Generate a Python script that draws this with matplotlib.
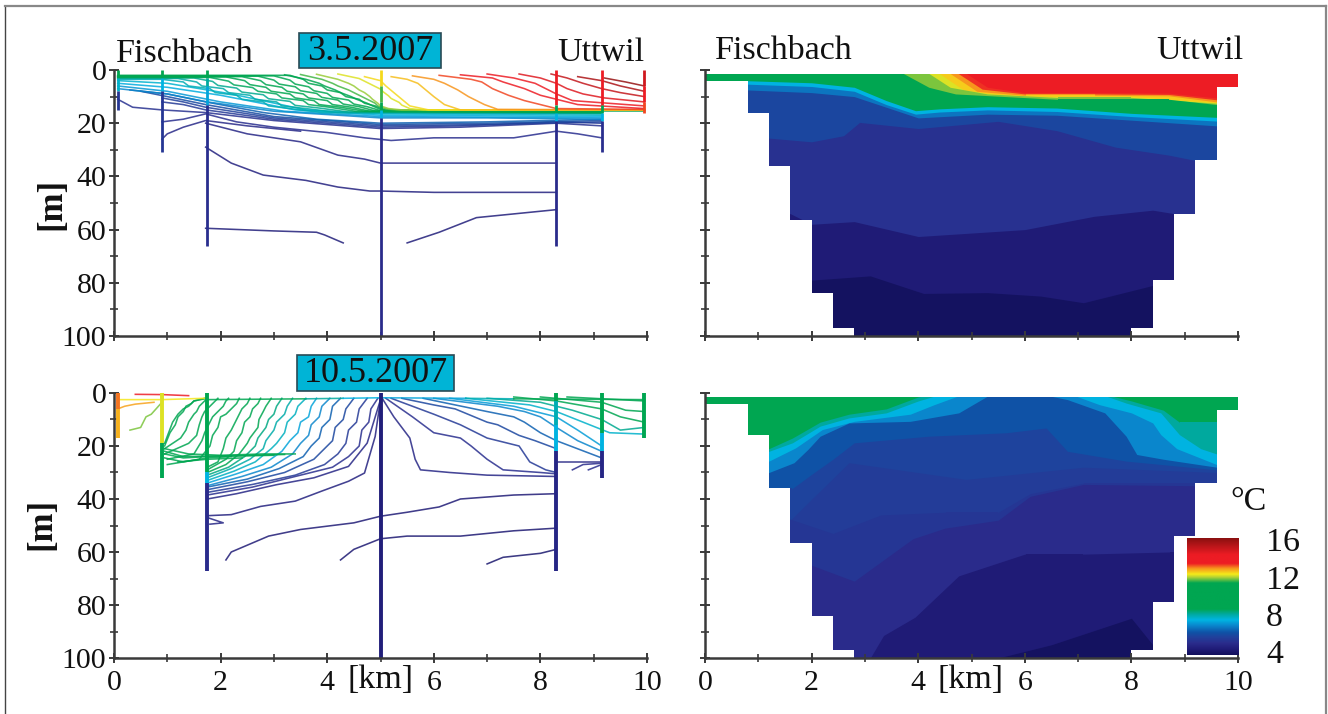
import matplotlib
matplotlib.use("Agg")
import matplotlib.pyplot as plt
from matplotlib.colors import LinearSegmentedColormap
from matplotlib.patches import Polygon, Rectangle
from matplotlib.ticker import MultipleLocator
import numpy as np

W, H = 1328, 714
plt.rcParams['font.family'] = ['Liberation Serif', 'DejaVu Serif']

# ---- colour scale -------------------------------------------------------
scale_T = [4, 4.6, 5.2, 5.8, 6.3, 7, 7.6, 8.2, 8.7, 11.4, 12.0, 12.3, 12.9, 13.4, 14.3, 16]
scale_c = ['#12105c', '#201c78', '#2a2c8c', '#21409b', '#0f52a6', '#0a85cc', '#00b5e2', '#00a99d',
           '#00a651', '#00a651', '#b5d334', '#f5eb1a', '#f7941d', '#ed1c24', '#ed1c24', '#8b1010']
cmap = LinearSegmentedColormap.from_list('lake', [((t - 4) / 12, c) for t, c in zip(scale_T, scale_c)])
def tc(t):
    return cmap((t - 4) / 12)

# ---- basin outline ------------------------------------------------------
bathy_x = [0, 0.8, 1.2, 1.6, 2.0, 2.4, 2.8, 8.0, 8.4, 8.8, 9.2, 9.6, 10]
bathy_z = [4, 16, 36, 56.5, 84, 97, 100, 97, 79, 54, 34, 6.5]
surface_z = 1.4

# ---- stations -----------------------------------------------------------
st_x = [0.07, 0.9, 1.75, 5.0, 8.3, 9.15, 9.95]
top_st_z = [[0, 3, 8, 15], [0, 3, 8, 31], [0, 3, 6, 13, 66], [0, 6, 12, 15, 18, 100],
            [0, 13, 16, 19, 66], [0, 13, 16, 19, 31], [0, 6, 12, 16]]
top_st_T = [[9.5, 7.8, 5.5], [9.5, 7.6, 5.5], [9.5, 8.2, 7.4, 5.3], [12.4, 11.6, 10, 7.6, 5.2],
            [13.6, 9.5, 7.6, 5.2], [13.6, 9.5, 7.6, 5.3], [14.8, 14.0, 13.2]]
bot_st_z = [[0, 6, 17], [0, 19, 32], [0, 30, 34, 67], [0, 100], [0, 3, 12, 22, 67], [0, 15, 22, 32], [0, 17]]
bot_st_T = [[13.0, 12.7], [12.2, 9.5], [9.5, 7.6, 5.2], [4.7], [9.5, 8.0, 7.6, 5.0], [9.5, 7.6, 5.0], [9.5]]

# ---- isotherms, left top ------------------------------------------------
top_T = [4.7, 4.7, 4.8, 5.0, 5.1, 5.3, 5.4, 5.6, 5.8, 6.1, 6.5, 7.0, 7.25, 7.5, 7.75,
         8.0, 8.1, 8.3, 8.6, 9.0, 9.5, 10, 10.5, 11, 11.3, 11.6, 11.9, 12.2, 12.4,
         12.6, 12.9, 13.2, 13.6, 14.1, 14.5, 15, 15.4, 15.8]
top_x = [[1.72, 3, 3.8, 3.95, 4.3], [5.5, 6.1, 6.8, 8.3],
         [1.72, 2.2, 2.8, 3.6, 4.2, 4.8, 5, 6, 8.3],
         [1.72, 2.5, 3.5, 4.2, 4.7, 5, 8.3],
         [0.9, 1.0, 1.3, 1.72, 2.5, 3.5],
         [0.9, 1.3, 1.72, 2.3, 3, 4, 4.7, 5.2, 6, 7.5, 8.3, 8.7, 9.15],
         [0.07, 0.35, 0.9, 1.72, 3, 5, 6.5, 8.3, 9.15],
         [0.9, 1.3, 1.72, 3, 5, 6.5, 8.3, 9.15],
         [0.9, 1.3, 1.72, 3, 5, 7, 9.15],
         [0.5, 1, 1.72, 3, 5, 7, 9.15],
         [0.3, 1, 1.72, 2.8, 3.8, 5, 7, 9.15],
         [0.07, 1, 1.75, 3, 5, 7, 9.15],
         [0.07, 1, 2, 3.2, 5, 9.15],
         [0.07, 1, 2, 3.4, 5, 9.15],
         [0.07, 1, 2.2, 3.6, 5, 9.15],
         [0.07, 0.9, 1.3, 1.4, 1.8, 1.9, 2.3, 2.4, 2.8, 2.9, 3.3, 3.9, 9.15],
         [0.07, 1.2, 1.55, 1.65, 2.05, 2.15, 2.55, 2.65, 3.05, 3.15, 3.6, 4.2, 9.15],
         [0.07, 1.5, 1.85, 1.95, 2.3, 2.4, 2.8, 2.9, 3.3, 3.4, 3.85, 4.4, 9.15],
         [0.07, 1.8, 2.15, 2.25, 2.6, 2.7, 3.05, 3.15, 3.55, 3.65, 4.05, 4.55, 9.15],
         [0.07, 2.1, 2.45, 2.55, 2.85, 2.95, 3.3, 3.4, 3.75, 3.85, 4.25, 4.7, 9.15],
         [0.07, 2.4, 2.75, 2.85, 3.15, 3.25, 3.55, 3.65, 4.0, 4.1, 4.45, 4.8, 9.15],
         [0.07, 2.7, 3.0, 3.1, 3.4, 3.5, 3.8, 3.9, 4.2, 4.3, 4.6, 4.9, 9.15],
         [0.07, 3.0, 3.3, 3.4, 3.65, 3.75, 4.0, 4.1, 4.4, 4.5, 4.75, 5.0, 9.15],
         [0.07, 3.3, 3.55, 3.65, 3.9, 4.0, 4.25, 4.35, 4.6, 4.7, 4.9, 5.1, 9.95],
         [3.2, 3.6, 3.85, 3.95, 4.15, 4.25, 4.45, 4.55, 4.75, 4.85, 5.0, 5.2, 9.95],
         [3.5, 3.9, 4.1, 4.2, 4.4, 4.5, 4.65, 4.75, 4.9, 4.95, 5.1, 5.3, 9.95],
         [3.8, 4.2, 4.4, 4.5, 4.6, 4.7, 4.8, 4.85, 4.95, 5.0, 5.15, 5.4, 9.95],
         [4.2, 4.6, 4.75, 4.85, 5.0, 5.05, 5.15, 5.2, 5.35, 5.4, 5.55, 5.8, 9.95],
         [4.7, 5.0, 5.1, 5.25, 5.4, 5.55, 5.9, 9.95],
         [5.2, 5.5, 5.7, 5.85, 6.0, 6.2, 6.5, 9.95],
         [5.6, 6.0, 6.2, 6.45, 6.65, 6.95, 7.2, 9.95],
         [6.1, 6.7, 6.9, 7.1, 7.4, 7.7, 8.3, 9.95],
         [6.5, 7.1, 7.3, 7.7, 8.0, 8.3, 8.7, 9.95],
         [7.0, 7.5, 7.9, 8.1, 8.3, 8.6, 9.95],
         [7.6, 8.0, 8.3, 8.5, 8.8, 9.2, 9.95],
         [8.2, 8.5, 8.8, 9.15, 9.5, 9.95],
         [8.7, 9.15, 9.5, 9.95],
         [9.2, 9.6, 9.95]]
top_z = [[59.5, 60.5, 61, 62, 65], [65, 61, 55.5, 52.5],
         [29, 35, 39.5, 41.5, 44, 45.5, 45.5, 46, 46],
         [20, 24, 27, 32, 33.5, 35, 35],
         [26, 24, 21.5, 19, 21, 23],
         [19.5, 18.5, 16.5, 19.5, 21.5, 23.5, 25.5, 26.5, 25.5, 25.5, 23, 24, 25.5],
         [11, 14, 15, 16, 19, 22, 21.5, 20, 21],
         [12, 13, 15, 18.5, 21.5, 21, 19.5, 20],
         [10.5, 12, 14, 18, 21, 20.5, 19.5],
         [8, 10, 13, 17.5, 20.5, 20, 19],
         [7.5, 9, 12, 16, 18.5, 20, 19.5, 18.5],
         [7, 9, 12, 15.5, 18, 18, 18.5],
         [6, 8, 12, 15.5, 17.5, 18],
         [5, 6.5, 9.5, 15, 17, 17.5],
         [4, 5, 9, 15, 16.5, 17],
         [3.5, 3.5, 4.5, 6, 7, 8.5, 9.5, 11, 12, 13.5, 14.5, 16, 16.5],
         [3.2, 3.2, 4.5, 6, 7, 8.5, 9.5, 11, 12, 13.5, 14.5, 16, 16.3],
         [3, 3, 4.3, 5.8, 6.8, 8.3, 9.3, 10.8, 11.8, 13.3, 14.3, 15.8, 16.2],
         [2.8, 2.8, 4.2, 5.6, 6.6, 8, 9, 10.5, 11.5, 13, 14, 15.6, 16],
         [2.6, 2.6, 4, 5.5, 6.5, 8, 9, 10.5, 11.5, 13, 14, 15.5, 16],
         [2.5, 2.5, 4, 5.5, 6.5, 8, 9, 10.5, 11.5, 13, 14, 15.5, 15.8],
         [2.3, 2.3, 3.8, 5.3, 6.3, 7.8, 8.8, 10.3, 11.3, 12.8, 13.8, 15.4, 15.7],
         [2.2, 2.2, 3.8, 5.3, 6.3, 7.8, 8.8, 10.3, 11.3, 12.8, 13.8, 15.3, 15.6],
         [2.0, 2.0, 3.5, 5, 6, 7.5, 8.5, 10, 11, 12.5, 13.5, 15.2, 15.4],
         [1.8, 3.5, 5, 6, 7.5, 8.5, 10, 11, 12.5, 13.5, 14.8, 15.2, 15.2],
         [1.7, 3.5, 5, 6, 7.5, 8.5, 10, 11, 12.5, 13.5, 14.6, 15.1, 15.1],
         [1.6, 3.5, 5, 6, 7.5, 8.5, 10, 11, 12.5, 13.5, 14.5, 15, 15],
         [1.5, 3.2, 4.7, 5.7, 7.2, 8.2, 9.7, 10.7, 12.2, 13.2, 14.5, 15, 15],
         [2.5, 4, 6, 8.5, 11, 13.5, 15, 15],
         [2.5, 3.5, 5, 7.5, 10, 13, 15, 15],
         [2.2, 3.5, 5, 7.5, 10, 13, 14.8, 15],
         [2, 3.5, 4.5, 7, 9.5, 11.5, 14.5, 14.8],
         [1.8, 3, 4.5, 7, 9.5, 11, 13, 14.5],
         [1.5, 3, 5, 7, 9, 11.5, 13.5],
         [1.5, 3, 5, 7, 9, 10.5, 12],
         [1.5, 3, 5, 7, 8.5, 10],
         [2.5, 4, 6, 8],
         [3, 4.5, 6]]

# ---- isotherms, left bottom ---------------------------------------------
bot_T = [4.6, 4.5, 4.4, 5.0, 4.8, 5.0,
         5.3, 5.6, 6.0, 6.5, 7.0, 7.4, 7.9, 8.1, 8.4, 8.7, 8.9, 9.2, 9.5, 9.8, 10.2, 10.6, 11.0, 11.3,
         9.5, 9.6, 9.7, 9.8, 9.4,
         11.8, 12.3, 12.8, 13.4,
         5.0, 5.3, 5.6, 6.0, 6.5, 7.0, 7.3, 7.8, 8.3, 8.8, 9.5, 10,
         5.0, 5.2, 5.3,
         10.0, 8.2, 7.6, 7.4, 8.0, 10.0]
bot_x = [[2.1, 2.2, 2.9, 3.5, 4.5, 5, 5.5, 6.1, 6.5, 7.5, 8.3],
         [4.25, 4.5, 5, 5.5, 6.5, 7.5, 8.3],
         [7, 7.3, 8, 8.3],
         [1.75, 2.05, 1.8],
         [1.75, 2.2, 2.75, 3.4, 3.9, 4.4, 4.7, 4.9, 5],
         [1.75, 2.3, 3.05, 3.75, 4.4, 4.75, 5],
         [1.75, 2.6, 3.4, 4.1, 4.4, 4.6, 4.65, 4.78, 4.82, 4.95],
         [1.75, 2.6, 3.4, 3.95, 4.2, 4.35, 4.4, 4.55, 4.6, 4.75],
         [1.75, 2.5, 3.2, 3.75, 3.95, 4.1, 4.15, 4.3, 4.35, 4.5],
         [1.75, 2.5, 3.1, 3.55, 3.7, 3.85, 3.9, 4.05, 4.1, 4.25],
         [1.75, 2.4, 2.95, 3.35, 3.5, 3.65, 3.7, 3.85, 3.9, 4.05],
         [1.75, 2.3, 2.8, 3.15, 3.3, 3.45, 3.5, 3.65, 3.7, 3.8],
         [1.75, 2.25, 2.65, 2.95, 3.05, 3.2, 3.25, 3.4, 3.45, 3.6],
         [1.75, 2.2, 2.55, 2.8, 2.85, 3.0, 3.05, 3.2, 3.25, 3.35],
         [1.75, 2.15, 2.45, 2.65, 2.7, 2.85, 2.9, 3.0, 3.05, 3.15],
         [1.75, 2.1, 2.35, 2.5, 2.55, 2.7, 2.72, 2.8, 2.85, 2.95],
         [1.75, 2.1, 2.25, 2.3, 2.4, 2.45, 2.55, 2.6, 2.7, 2.75],
         [1.75, 1.95, 2.05, 2.1, 2.2, 2.3, 2.35, 2.4, 2.5, 2.55],
         [1.0, 1.6, 1.8, 1.85, 1.95, 2.0, 2.1, 2.2, 2.3, 2.35],
         [1.0, 1.5, 1.65, 1.7, 1.8, 1.85, 1.95, 2.05, 2.1, 2.15],
         [0.95, 1.4, 1.55, 1.6, 1.65, 1.7, 1.75, 1.85, 1.9, 1.95],
         [0.95, 1.25, 1.35, 1.4, 1.5, 1.55, 1.6, 1.65, 1.7, 1.75],
         [0.95, 1.05, 1.15, 1.2, 1.3, 1.35, 1.45, 1.5, 1.6, 1.7],
         [0.95, 1.1, 1.2, 1.3, 1.4, 1.5, 1.75],
         [0.95, 1.4, 2.0, 2.8, 3.4],
         [0.95, 1.3, 1.75, 2.6, 3.2],
         [0.95, 1.3, 1.75, 2.3, 3.0],
         [0.95, 1.3, 1.75, 2.2],
         [1.2, 1.75, 2.4],
         [0.3, 0.5, 0.6, 0.7, 0.9],
         [0.07, 0.9, 1.7],
         [0.07, 0.2, 0.4, 0.75],
         [0.4, 0.9, 1.4],
         [5, 5.25, 5.55, 5.65, 5.75, 6.3, 7, 8.3],
         [5.1, 5.6, 6, 6.5, 6.7, 7, 7.3, 8, 8.3],
         [5.2, 6, 6.5, 7, 7.6, 7.8, 8.1, 8.3],
         [5.4, 6.0, 6.4, 7, 7.2, 7.6, 7.9, 8.3],
         [5.8, 7, 7.5, 7.7, 8, 8.3, 9.15],
         [6, 7.2, 7.7, 8, 8.3, 8.7, 9.15],
         [6.3, 7.5, 8.3, 8.7, 9.15],
         [6.6, 7.8, 8.3, 8.8, 9.3, 9.95],
         [7, 8, 8.6, 9.15, 9.5, 9.95],
         [7.5, 8.3, 9.15, 9.5, 9.95],
         [8, 9.15, 9.6, 9.95],
         [8.5, 9.95],
         [8.3, 8.9, 9.15],
         [8.6, 8.8, 9.15],
         [8.9, 9.15],
         [1.75, 3.6], [3.6, 4.3], [4.3, 5.0], [5.0, 6.6], [6.6, 7.5], [7.5, 9.95]]
bot_z = [[63, 60, 54, 51.5, 49, 46.5, 45, 43, 40, 38.5, 38],
         [63, 59, 55, 54, 54, 52, 51],
         [64.5, 62, 60.5, 59],
         [47, 49, 49.5],
         [46.3, 45.9, 42.8, 40.8, 37, 33.3, 30.2, 16.4, 2.5],
         [40, 38, 34.6, 32, 27.7, 18.9, 2.5],
         [38.5, 35.5, 31.5, 28, 24, 20, 14, 11, 6, 2],
         [37.5, 34.5, 31, 27, 23, 19, 14, 11, 6, 2],
         [36.5, 33.5, 30, 25, 21, 18, 13, 10, 6, 2],
         [35.5, 32.5, 28.5, 24, 20, 17, 13, 10, 5, 2],
         [35, 31.5, 28, 23, 19, 16, 12, 9, 5, 2],
         [34, 30.5, 27, 22, 18, 15, 11, 9, 5, 2],
         [33, 29.5, 26, 21, 19, 15, 11, 8, 5, 2],
         [32, 28.5, 25, 21, 18, 14, 11, 8, 5, 2],
         [31, 28, 24, 20, 17, 13, 10, 8, 5, 2],
         [30, 27, 23, 19, 17, 13, 10, 7, 5, 2],
         [29, 25, 22, 18, 15, 11, 9, 6, 4, 2],
         [28, 26, 21, 17, 14, 10, 8, 6, 4, 2],
         [27, 25, 20, 16, 13, 9, 8, 6, 4, 2],
         [25, 23, 18, 15, 11, 9, 7, 5, 3, 2],
         [23, 19, 16, 12, 9, 7, 6, 4, 3, 2],
         [21, 17, 14, 11, 8, 7, 5, 4, 3, 2],
         [20, 15, 12, 9, 7, 5, 4, 3, 2.5, 2],
         [19, 11, 8, 6, 5, 3, 2],
         [21, 23, 23.5, 23, 23],
         [22, 24, 23.8, 23.5, 23.2],
         [23, 24.5, 24, 23.8, 23.5],
         [24.5, 26, 24.5, 24],
         [26, 25, 24.5],
         [14, 13, 9, 8, 3.5],
         [2.5, 2.5, 2],
         [6, 5, 4.2, 3.5],
         [0.5, 0.6, 1],
         [1, 9, 17, 25, 29, 30, 31, 31.5],
         [2, 9, 15, 17, 20, 25, 29, 30, 30.5],
         [2, 8, 12, 17, 20, 26, 29, 30],
         [2, 4.5, 6, 11, 12, 16, 18, 21],
         [2, 7, 9, 11, 15, 18, 24.5],
         [2, 5, 7, 9, 13, 18, 22],
         [2, 5, 9, 14, 20],
         [2, 4.5, 7, 11, 15, 15.5],
         [2, 3.5, 6.5, 10, 14, 13],
         [1.5, 3, 6, 9, 11],
         [1.5, 3.5, 6.5, 7],
         [1.5, 3],
         [26, 26, 26],
         [29, 27, 26.5],
         [29, 27],
         [2.5, 2.2], [2.2, 2], [2, 1.8], [1.8, 2], [2, 2.2], [2.2, 2.5]]

# ---- filled layers, right top: T of the colder side, x and z of its upper edge
rt_base_T = 14.0
rt_T = [13.3, 12.9, 12.5, 12.2, 11.8, 11.2, 7.6, 6.8, 6.0, 5.4, 4.6, 4.1]
rt_x = [[0, 4.8, 5.3, 6, 7.3, 8.7, 9.6, 10],
        [0, 4.65, 5.2, 6, 7.3, 8.7, 9.6, 10],
        [0, 4.5, 5.1, 6, 7.3, 8.7, 9.6, 10],
        [0, 4.3, 4.85, 5.6, 6.6, 8, 9.6, 10],
        [0, 4.1, 4.6, 5.3, 6.6, 8, 9.6, 10],
        [0, 3.6, 4.2, 4.7, 6.6, 8.7, 9.6, 10],
        [0, 0.75, 2, 2.8, 3.4, 3.95, 4.4, 5.3, 6.6, 8, 9.6, 10],
        [0, 0.75, 2, 2.8, 3.4, 3.95, 4.4, 5.3, 6.6, 8, 9.6, 10],
        [0, 0.8, 2, 2.8, 3.4, 4.0, 5.3, 6.6, 9.6, 10],
        [0, 1.2, 2, 2.6, 2.9, 4, 5.5, 6.6, 7.7, 8.7, 9.2, 10],
        [0, 1.6, 2, 2.8, 4, 6, 7.3, 8.4, 8.8, 10],
        [0, 2, 3.1, 4.1, 5.3, 6.3, 7.1, 8.4, 10]]
rt_z = [[0, 0, 6.5, 8.5, 8.5, 8.7, 10.5, 10.5],
        [0, 0, 7.2, 9, 9, 9.2, 11.2, 11.2],
        [0, 0, 8, 9.5, 9.5, 9.7, 12, 12],
        [0, 0, 7.5, 9.7, 10, 10, 12.3, 12.3],
        [0, 0, 6.5, 9, 10.3, 10.3, 12.5, 12.5],
        [0, 0, 6.5, 9, 11, 11, 13, 13],
        [4, 4, 4.8, 6.5, 11.5, 15.3, 14.6, 13.8, 14.3, 16.3, 17.8, 17.8],
        [5.3, 5.3, 6.2, 8, 13, 16.6, 15.8, 15, 15.6, 17.5, 19.2, 19.2],
        [7.5, 7.5, 8.5, 10, 14, 18, 16.6, 17, 21, 21],
        [25.6, 25.6, 27, 24.7, 19.7, 22, 19.3, 22.8, 29, 32, 34, 34],
        [54, 54, 58, 57, 62.6, 60, 55, 52.7, 54, 54],
        [79, 79, 77.4, 84, 83.7, 85, 87.5, 81, 81]]

# ---- filled layers, right bottom
rb_base_T = 9.5
rb_T = [8.2, 7.6, 7.0, 6.3, 5.9, 5.7, 5.5, 5.2, 4.6, 4.1]
rb_x = [[0, 1.2, 1.64, 2.16, 2.7, 3.4, 4.0, 4.4, 7.4, 8, 8.6, 8.9, 9.3, 9.6, 10],
        [0, 1.2, 1.64, 2.16, 2.7, 3.4, 4.0, 4.5, 7.36, 7.9, 8.55, 8.9, 9.3, 9.6, 10],
        [0, 1.2, 1.7, 2.2, 2.8, 3.85, 4.3, 4.9, 6.8, 7.4, 8, 8.4, 8.55, 8.85, 9.6, 10],
        [0, 1.2, 1.67, 1.93, 2.16, 2.7, 3.85, 4.76, 5.4, 6.2, 6.8, 7.5, 7.9, 8.1, 8.6, 9.6, 10],
        [0, 1.2, 1.64, 2, 2.4, 2.8, 4.2, 5.65, 6.4, 6.8, 7.9, 9.6, 10],
        [0, 1.6, 2.7, 4.9, 7.1, 9.6, 10],
        [0, 1.6, 2.4, 3.3, 4.5, 5.5, 6.1, 7.1, 9.2, 10],
        [0, 2, 2.8, 3.9, 4.5, 5.5, 6.1, 7.1, 9.2, 10],
        [0, 3.1, 3.35, 3.94, 4.76, 6.0, 7.1, 8.7, 10],
        [0, 5.5, 6.5, 8, 8.4, 10]]
rb_z = [[21, 21, 17, 11, 8, 6, 1.5, 0, 0, 3, 6.5, 11, 11, 11, 11],
        [22, 22, 18.8, 12.5, 9.4, 7.5, 3, 0, 0, 3.8, 7.5, 15.7, 21, 23, 23],
        [25.7, 25.7, 20.7, 13.8, 10.7, 8, 4.4, 0, 0, 4.4, 7.5, 11.3, 15.7, 21, 27, 27],
        [30, 30, 26.3, 21.3, 16.3, 11.3, 10.7, 7.5, 0, 0, 2.5, 7.5, 16.3, 23.2, 25, 28, 28],
        [36, 36, 36, 30.7, 25, 18.8, 16.3, 15, 13.2, 22, 25.7, 29, 29],
        [48, 48, 26.3, 32.6, 28, 30, 30],
        [47.6, 47.6, 53, 46, 45, 45, 38, 34, 34, 34],
        [65, 65, 71, 55, 51, 48, 39, 34.5, 35, 35],
        [100, 100, 91.5, 84.6, 69, 60.8, 60.8, 60, 60],
        [100, 100, 95, 85, 95, 100]]

# ---- tick labels and texts ----------------------------------------------
depth_ticks = [0, 20, 40, 60, 80, 100]
km_ticks = [0, 2, 4, 6, 8, 10]
cbar_labels = ['16', '12', '8', '4']

# ---- layout ---------------------------------------------------------------
fig = plt.figure(figsize=(W / 100, H / 100), dpi=100)
def add_ax(x0, x1, y0, y1):
    return fig.add_axes([x0 / W, 1 - y1 / H, (x1 - x0) / W, (y1 - y0) / H])

ax_lt = add_ax(114, 647, 70, 336)
ax_lb = add_ax(114, 647, 393, 658)
ax_rt = add_ax(705, 1238, 70, 336)
ax_rb = add_ax(705, 1238, 393, 658)

FS = 21.5
TS = 24.5
for ax in (ax_lt, ax_lb, ax_rt, ax_rb):
    ax.set_xlim(0, 10)
    ax.set_ylim(100, 0)
    ax.patch.set_visible(False)
    for s in ('top', 'right'):
        ax.spines[s].set_visible(False)
    for s in ('left', 'bottom'):
        ax.spines[s].set_linewidth(1.8)
        ax.spines[s].set_color('#3a3a3a')
    ax.set_xticks(km_ticks)
    ax.xaxis.set_minor_locator(MultipleLocator(1))
    ax.set_yticks(depth_ticks)
    ax.yaxis.set_minor_locator(MultipleLocator(10))
    ax.tick_params(which='major', direction='inout', length=7, width=1.4, color='#3a3a3a',
                   labelsize=FS, pad=2, labelcolor='#111111')
    ax.tick_params(which='minor', direction='inout', length=6, width=1.2, color='#3a3a3a')
    ax.tick_params(axis='x', pad=5)

def lab(ax, left, bottom):
    ax.tick_params(labelleft=left, labelbottom=bottom)
lab(ax_lt, True, False)
lab(ax_lb, True, True)
lab(ax_rt, False, False)
lab(ax_rb, False, True)

# ---- left panels -----------------------------------------------------------
def draw_left(ax, Ts, xs, zs, st_z, st_T, st_lw):
    for t, x, z in zip(Ts, xs, zs):
        n = min(len(x), len(z))
        ax.plot(x[:n], z[:n], color=tc(t), lw=1.15, alpha=0.85, solid_joinstyle='round')
    for sx, z, T in zip(st_x, st_z, st_T):
        for k, t in enumerate(T):
            ax.plot([sx, sx], [z[k], z[k + 1]], color=tc(t), lw=st_lw, solid_capstyle='butt', clip_on=False)

draw_left(ax_lt, top_T, top_x, top_z, top_st_z, top_st_T, 2.0)
draw_left(ax_lb, bot_T, bot_x, bot_z, bot_st_z, bot_st_T, 2.8)

# ---- right panels ----------------------------------------------------------
def outline():
    px, pz = [0], [surface_z]
    px.append(0); pz.append(bathy_z[0])
    for i in range(1, len(bathy_x) - 1):
        px += [bathy_x[i], bathy_x[i]]
        pz += [bathy_z[i - 1], bathy_z[i]]
    px += [10, 10]
    pz += [bathy_z[-1], surface_z]
    return np.column_stack([px, pz])

def draw_right(ax, base, Ts, xs, zs):
    clip = Polygon(outline(), closed=True, transform=ax.transData, fc='none', ec='none')
    ax.add_patch(clip)
    r = ax.fill_between([0, 10], 0, 100, color=tc(base), lw=0)
    r.set_clip_path(clip)
    for t, x, z in zip(Ts, xs, zs):
        p = ax.fill_between(x, z, 100, color=tc(t), lw=0)
        p.set_clip_path(clip)

draw_right(ax_rt, rt_base_T, rt_T, rt_x, rt_z)
draw_right(ax_rb, rb_base_T, rb_T, rb_x, rb_z)

# ---- colour bar ------------------------------------------------------------
cax = add_ax(1187, 1239, 538, 655)
cax.imshow(np.linspace(1, 0, 256).reshape(-1, 1), cmap=cmap, aspect='auto', vmin=0, vmax=1)
cax.axis('off')

# ---- texts -----------------------------------------------------------------
def txt(px, py, s, **kw):
    kw.setdefault('fontsize', TS)
    kw.setdefault('color', '#111111')
    return fig.text(px / W, 1 - py / H, s, **kw)

txt(116, 54, 'Fischbach', ha='left', va='center')
txt(644, 53, 'Uttwil', ha='right', va='center')
txt(715, 51, 'Fischbach', ha='left', va='center')
txt(1243, 51, 'Uttwil', ha='right', va='center')
txt(381, 680, '[km]', ha='center', va='center')
txt(971, 680, '[km]', ha='center', va='center')
txt(52, 204, '[m]', rotation=90, ha='center', va='center', fontweight='bold', fontsize=25)
txt(42, 524, '[m]', rotation=90, ha='center', va='center', fontweight='bold', fontsize=25)
txt(1248, 502, '°C', ha='center', va='center', fontsize=TS)
for lb, py in zip(cbar_labels, [543, 581, 618, 655]):
    txt(1266, py, lb, ha='left', va='center', fontsize=TS)

for (x0, x1, y0, y1, s) in [(299, 441, 33, 68, '3.5.2007'), (297, 454, 355, 391, '10.5.2007')]:
    fig.add_artist(Rectangle((x0 / W, 1 - y1 / H), (x1 - x0) / W, (y1 - y0) / H, transform=fig.transFigure,
                             fc='#00b4d6', ec='#2a4a55', lw=1.2, zorder=5))
    txt((x0 + x1) / 2, (y0 + y1) / 2 + 1, s, ha='center', va='center', fontsize=26, zorder=6)

# frame, open at the bottom
fig.add_artist(plt.Line2D([4.5 / W, 4.5 / W], [0, 1 - 6 / H], color='#444444', lw=1.0))
fig.add_artist(plt.Line2D([4.5 / W, 1326 / W], [1 - 6 / H, 1 - 6 / H], color='#888888', lw=1.6))
fig.add_artist(plt.Line2D([1326 / W, 1326 / W], [0, 1 - 6 / H], color='#888888', lw=1.6))

fig.savefig('out.png', dpi=100)
